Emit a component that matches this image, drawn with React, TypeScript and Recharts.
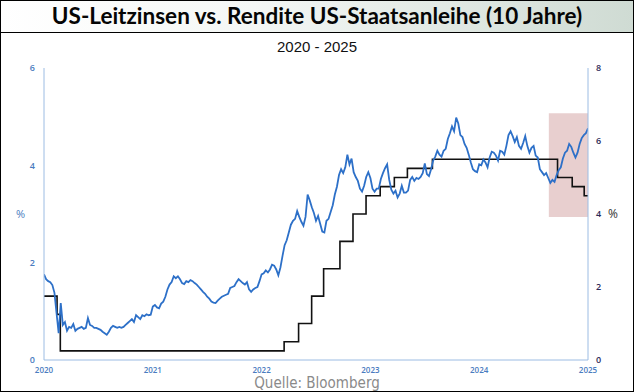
import { Label, Line, LineChart, ReferenceArea, XAxis, YAxis } from 'recharts';

// 10-year treasury yield, weekly, Jan 2020 .. Jan 2025 (left axis, %)
const tenYearYield = [
  // 2020
  1.76, 1.66, 1.62, 1.6, 1.54, 1.38, 0.96, 0.55, 1.17, 0.72, 0.78, 0.6, 0.68,
  0.66, 0.74, 0.6, 0.64, 0.66, 0.68, 0.64, 0.66, 0.86, 0.72, 0.7, 0.66, 0.66,
  0.64, 0.62, 0.58, 0.55, 0.52, 0.58, 0.66, 0.7, 0.68, 0.66, 0.68, 0.66, 0.68,
  0.72, 0.76, 0.8, 0.84, 0.78, 0.92, 0.88, 0.84, 0.92, 0.9, 0.94, 0.92, 0.93,
  // 2021
  1.1, 1.13, 1.08, 1.06, 1.16, 1.2, 1.3, 1.45, 1.55, 1.6, 1.72, 1.68, 1.72,
  1.66, 1.58, 1.56, 1.62, 1.6, 1.64, 1.62, 1.58, 1.55, 1.5, 1.45, 1.4, 1.36,
  1.3, 1.26, 1.2, 1.18, 1.17, 1.22, 1.26, 1.3, 1.32, 1.34, 1.36, 1.48, 1.5,
  1.52, 1.6, 1.66, 1.62, 1.58, 1.55, 1.6, 1.45, 1.4, 1.45, 1.48, 1.5, 1.62,
  // 2022
  1.76, 1.78, 1.84, 1.8, 1.86, 1.96, 1.94, 1.86, 1.74, 1.9, 2.14, 2.36, 2.46,
  2.62, 2.78, 2.86, 2.9, 3.06, 2.94, 2.84, 2.76, 2.94, 3.4, 3.28, 3.14, 3.02,
  2.86, 2.96, 2.8, 2.64, 2.62, 2.86, 2.9, 3.04, 3.18, 3.4, 3.56, 3.8, 3.92,
  3.84, 3.96, 4.22, 4.02, 4.14, 3.86, 3.76, 3.68, 3.52, 3.46, 3.58, 3.76, 3.86,
  // 2023
  3.74, 3.52, 3.46, 3.52, 3.52, 3.72, 3.84, 3.94, 4.02, 3.7, 3.5, 3.42, 3.48,
  3.34, 3.42, 3.58, 3.44, 3.44, 3.48, 3.7, 3.76, 3.68, 3.74, 3.72, 3.76, 3.84,
  4.04, 3.82, 3.78, 3.92, 4.1, 4.18, 4.3, 4.22, 4.18, 4.3, 4.34, 4.54, 4.66,
  4.8, 4.7, 4.98, 4.86, 4.62, 4.58, 4.44, 4.36, 4.22, 4.06, 3.92, 3.88, 3.86,
  // 2024
  4.02, 4.0, 4.12, 4.06, 3.96, 4.16, 4.28, 4.26, 4.2, 4.1, 4.3, 4.28, 4.22,
  4.4, 4.62, 4.7, 4.6, 4.48, 4.58, 4.4, 4.34, 4.46, 4.6, 4.4, 4.26, 4.36,
  4.4, 4.2, 4.16, 3.92, 3.86, 3.8, 3.84, 3.74, 3.64, 3.7, 3.66, 3.8, 3.9,
  3.96, 4.14, 4.26, 4.3, 4.44, 4.38, 4.26, 4.16, 4.26, 4.44, 4.56, 4.62, 4.66,
  // Jan 2025
  4.76,
];

// Fed funds target (upper bound), decision dates as decimal years (right axis, %)
const fedDates = [
  2020.0, 2020.12, 2020.15, 2022.207, 2022.34, 2022.46, 2022.57, 2022.72, 2022.84,
  2022.96, 2023.09, 2023.22, 2023.34, 2023.57, 2024.72, 2024.855, 2024.965, 2025.0,
];
const fedRate = [
  1.75, 1.25, 0.25, 0.5, 1.0, 1.75, 2.5, 3.25, 4.0, 4.5, 4.75, 5.0, 5.25, 5.5, 5.0,
  4.75, 4.5, 4.5,
];

const yearTicks = [2020, 2021, 2022, 2023, 2024, 2025];
const leftTicks = [0, 2, 4, 6];
const rightTicks = [0, 2, 4, 6, 8];

// highlighted window: Aug 2024 .. Jan 2025, yield range on the left axis
const highlightX = [2024.64, 2025];
const highlightY = [2.94, 5.07];

const yieldData = tenYearYield.map((v, i) => ({
  x: 2020 + (i * 5) / (tenYearYield.length - 1),
  yield: v,
}));
const fedData = fedDates.map((d, i) => ({ x: d, rate: fedRate[i] }));

const BLUE_TXT = '#4a7cc0';
const AXIS = '#9cbce3';

export default function App() {
  return (
    <div style={{ position: 'relative', width: 634, height: 392, background: '#fff', overflow: 'hidden' }}>
      <style>{`body{margin:0}`}</style>
      <div
        style={{
          position: 'absolute',
          left: 0,
          top: 0,
          width: 634,
          height: 33,
          boxSizing: 'border-box',
          borderBottom: '1px solid #000',
          background: 'linear-gradient(to right, #ffffff 0%, #f4f7f5 40%, #cfdbd3 100%)',
          fontFamily: 'Lato, "Open Sans", sans-serif',
          fontWeight: 700,
          fontSize: 22.5,
          lineHeight: '32px',
          textAlign: 'center',
          color: '#050505',
        }}
      >
        US-Leitzinsen vs. Rendite US-Staatsanleihe (10 Jahre)
      </div>
      <div
        style={{
          position: 'absolute',
          left: 0,
          top: 38,
          width: 634,
          textAlign: 'center',
          fontFamily: '"Liberation Sans", Arial, sans-serif',
          fontSize: 15,
          color: '#111',
        }}
      >
        2020 - 2025
      </div>
      <div style={{ position: 'absolute', left: 0, top: 0 }}>
        <LineChart width={634} height={392} margin={{ top: 68, right: 16, bottom: 12, left: 14 }}>
          <XAxis
            dataKey="x"
            type="number"
            domain={[2020, 2025]}
            ticks={yearTicks}
            allowDataOverflow
            height={20}
            tickSize={0}
            tickMargin={7}
            axisLine={{ stroke: AXIS }}
            tick={{ fontSize: 8, fill: BLUE_TXT, fontFamily: '"Open Sans", sans-serif', fontWeight: 600 }}
          />
          <YAxis
            yAxisId="left"
            domain={[0, 6]}
            ticks={leftTicks}
            width={30}
            tickSize={0}
            tickMargin={9}
            axisLine={{ stroke: AXIS }}
            tick={{ fontSize: 9, fill: BLUE_TXT, fontFamily: '"Open Sans", sans-serif', fontWeight: 600 }}
          >
            <Label value="%" position="insideLeft" offset={2} fill={BLUE_TXT} fontSize={11} fontFamily="Open Sans, sans-serif" />
          </YAxis>
          <YAxis
            yAxisId="right"
            orientation="right"
            domain={[0, 8]}
            ticks={rightTicks}
            width={30}
            tickSize={0}
            tickMargin={8}
            axisLine={{ stroke: AXIS }}
            tick={{ fontSize: 9, fill: '#2c2a58', fontFamily: '"Open Sans", sans-serif', fontWeight: 600 }}
          >
            <Label value="%" position="insideRight" offset={0} fill="#333" fontSize={12} fontFamily="Open Sans, sans-serif" />
          </YAxis>
          <ReferenceArea
            yAxisId="left"
            x1={highlightX[0]}
            x2={highlightX[1]}
            y1={highlightY[0]}
            y2={highlightY[1]}
            fill="#e8cfcf"
            fillOpacity={1}
            stroke="none"
            ifOverflow="extendDomain"
          />
          <Line
            yAxisId="right"
            data={fedData}
            dataKey="rate"
            type="stepAfter"
            stroke="#111"
            strokeWidth={1.6}
            dot={false}
            isAnimationActive={false}
          />
          <Line
            yAxisId="left"
            data={yieldData}
            dataKey="yield"
            type="linear"
            stroke="#2d70c8"
            strokeWidth={1.8}
            dot={false}
            isAnimationActive={false}
          />
        </LineChart>
      </div>
      <div
        style={{
          position: 'absolute',
          left: 0,
          top: 374,
          width: 634,
          textAlign: 'center',
          fontFamily: '"Liberation Sans Narrow", "Arial Narrow", "DejaVu Sans Condensed", sans-serif',
          fontSize: 15,
          color: '#8a8a8a',
        }}
      >
        Quelle: Bloomberg
      </div>
      <div
        style={{
          position: 'absolute',
          inset: 0,
          border: '1px solid #000',
          pointerEvents: 'none',
        }}
      />
    </div>
  );
}
